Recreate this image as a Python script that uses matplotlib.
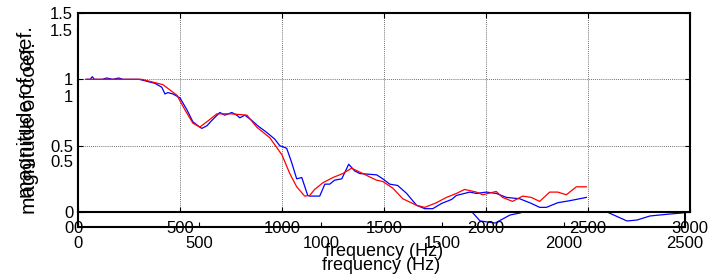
import numpy as np
import matplotlib
matplotlib.use("Agg")
import matplotlib.pyplot as plt

plt.rcParams['font.family'] = ['Liberation Sans', 'DejaVu Sans']

# ---- data ----
freq_red = [40, 150, 313, 416, 485, 524, 563, 597, 640, 681, 750, 828, 876, 940, 1000,
            1038, 1072, 1111, 1136, 1160, 1200, 1250, 1298, 1341, 1396, 1463, 1494, 1543,
            1592, 1660, 1700, 1757, 1806, 1855, 1895, 1953, 1984, 2050, 2081, 2130, 2180,
            2222, 2263, 2312, 2352, 2394, 2443, 2492]
mag_red = [1.0, 1.0, 1.0, 0.96, 0.88, 0.77, 0.67, 0.64, 0.69, 0.74, 0.74, 0.73, 0.64, 0.56, 0.43,
           0.29, 0.19, 0.12, 0.125, 0.17, 0.22, 0.26, 0.29, 0.33, 0.29, 0.24, 0.23, 0.18,
           0.10, 0.05, 0.035, 0.07, 0.11, 0.14, 0.17, 0.15, 0.13, 0.155, 0.11, 0.08, 0.12,
           0.11, 0.08, 0.15, 0.15, 0.13, 0.19, 0.19]

freq_blue = [40, 60, 70, 80, 120, 140, 170, 200, 220, 300, 338, 377, 411, 426, 441, 465, 500,
             534, 563, 588, 607, 632, 656, 695, 720, 754, 778, 793, 818, 852, 881, 925, 964,
             989, 1023, 1048, 1072, 1097, 1126, 1136, 1185, 1210, 1234, 1258, 1293, 1327,
             1356, 1381, 1464, 1494, 1528, 1567, 1611, 1660, 1700, 1739, 1783, 1832, 1855,
             1895, 1920, 1953, 2002, 2050, 2100, 2165, 2222, 2263, 2296, 2352, 2410, 2492]
mag_blue = [1.0, 1.0, 1.02, 1.0, 1.0, 1.01, 1.0, 1.01, 1.0, 1.0, 0.985, 0.97, 0.94, 0.89, 0.90,
            0.89, 0.86, 0.77, 0.68, 0.65, 0.63, 0.65, 0.69, 0.75, 0.73, 0.75, 0.73, 0.71, 0.73,
            0.69, 0.65, 0.60, 0.55, 0.50, 0.48, 0.37, 0.25, 0.26, 0.125, 0.12, 0.12, 0.21,
            0.21, 0.24, 0.25, 0.36, 0.31, 0.29, 0.28, 0.25, 0.21, 0.20, 0.14, 0.05, 0.025,
            0.025, 0.065, 0.095, 0.125, 0.14, 0.15, 0.14, 0.15, 0.14, 0.11, 0.10, 0.065,
            0.035, 0.035, 0.07, 0.085, 0.11]

# second (offset) figure layer: only the part below the top panel is visible
freq_blue2 = [1590, 1623, 1656, 1718, 1779, 1821, 1850, np.nan,
              2090, 2117, 2179, 2261, 2302, 2356, 2438, 2492]
mag_blue2 = [0.14, 0.114, 0.046, 0.030, 0.091, 0.107, 0.13, np.nan,
             0.14, 0.114, 0.114, 0.046, 0.053, 0.084, 0.099, 0.107]

xticks_a = [0, 500, 1000, 1500, 2000, 2500, 3000]
xticks_b = [0, 500, 1000, 1500, 2000, 2500]
yticks = [0, 0.5, 1, 1.5]
ytick_labels = ['0', '0.5', '1', '1.5']
xlabel = 'frequency (Hz)'
ylabel = 'magnitude of coef.'

W, H = 720, 280
fig = plt.figure(figsize=(7.2, 2.8), dpi=100)


def px_rect(l, r, top, bottom):
    return [l / W, 1 - bottom / H, (r - l) / W, (bottom - top) / H]


def style(ax, xt):
    ax.set_yticks(yticks)
    ax.set_yticklabels(ytick_labels)
    ax.set_xticks(xt)
    ax.set_xticklabels([str(v) for v in xt])
    ax.tick_params(direction='in', length=3.5, width=0.8, top=True, right=True,
                   labelsize=12, colors='black')
    ax.tick_params(axis='x', pad=6.5)
    ax.tick_params(axis='y', pad=3.5)
    for s in ax.spines.values():
        s.set_linewidth(1.5)
        s.set_color('black')


# lower / behind layer
axb = fig.add_axes(px_rect(78, 685, 30, 227))
axb.plot(freq_blue2, mag_blue2, color='#0000ff', lw=0.9)
axb.set_xlim(0, 2500)
axb.set_ylim(0, 1.5)
style(axb, xticks_b)

# upper / front layer
axa = fig.add_axes(px_rect(78, 690, 13, 212))
axa.set_facecolor('white')
axa.plot(freq_blue, mag_blue, color='#0000ff', lw=0.9)
axa.plot(freq_red, mag_red, color='#ff0000', lw=0.9)
axa.set_xlim(0, 3000)
axa.set_ylim(0, 1.5)
axa.grid(True, linestyle=(0, (1, 1.5)), color='0.25', linewidth=0.6)
style(axa, xticks_a)

# axis titles (two overlapping layers)
fig.text(384 / W, 1 - 252 / H, xlabel, ha='center', va='center', fontsize=13)
fig.text(381 / W, 1 - 266 / H, xlabel, ha='center', va='center', fontsize=13)
fig.text(27 / W, 1 - 112 / H, ylabel, rotation=90, ha='center', va='center', fontsize=15)
fig.text(30 / W, 1 - 128 / H, ylabel, rotation=90, ha='center', va='center', fontsize=15)

fig.savefig('out.png', dpi=100)
